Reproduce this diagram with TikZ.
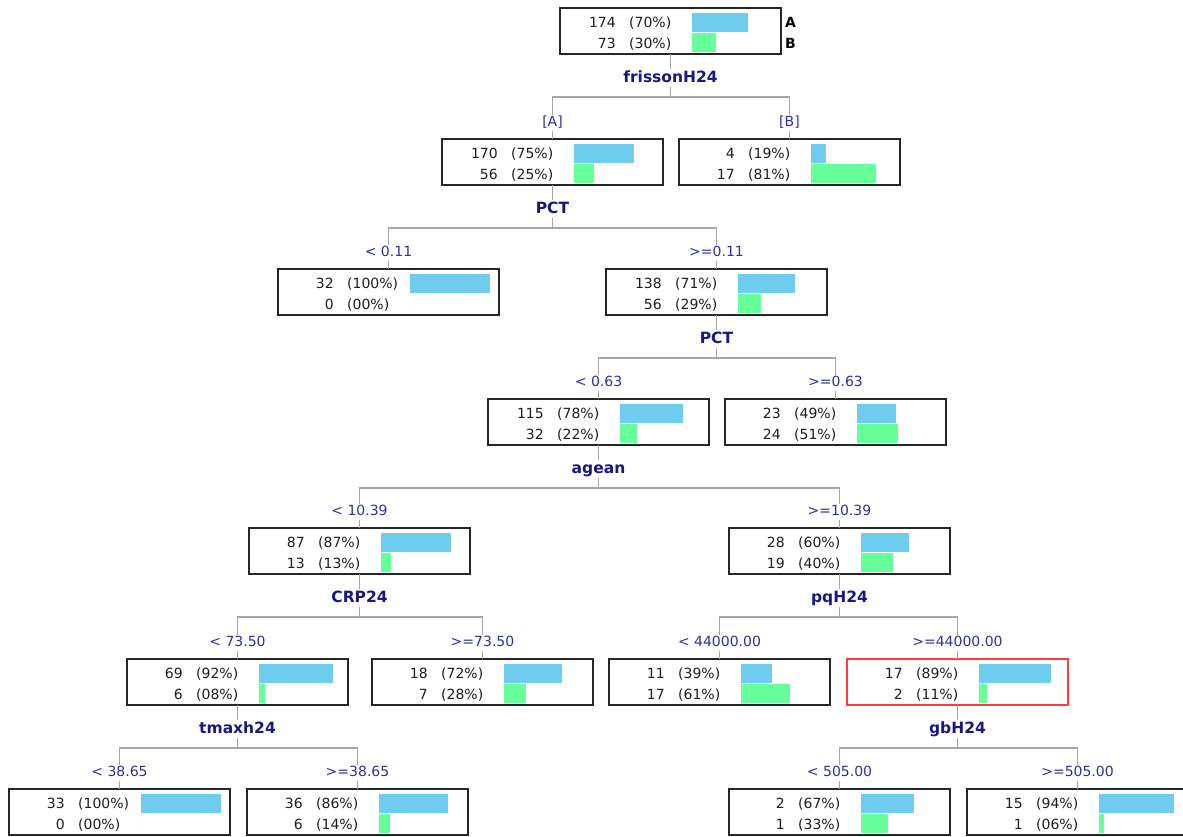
\documentclass[tikz,border=0pt]{standalone}
\usepackage{fontspec}
\setmainfont{DejaVu Sans}
\usetikzlibrary{calc}
\definecolor{barblue}{RGB}{110,204,238}
\definecolor{bargreen}{RGB}{102,255,153}
\definecolor{navy}{RGB}{24,24,128}
\definecolor{brblue}{RGB}{48,48,160}
\definecolor{linegray}{RGB}{165,165,165}
\definecolor{redbox}{RGB}{255,60,60}
\definecolor{boxtext}{RGB}{30,30,30}
\tikzset{
 tbox/.style={draw=black!85, line width=1.3pt, minimum width=221pt, minimum height=46pt, inner sep=0pt, outer sep=0pt, anchor=north west},
 redtbox/.style={tbox, draw=redbox},
 numtxt/.style={font=\fontsize{14}{14}\selectfont, text=boxtext, inner sep=0pt},
 splitlbl/.style={font=\fontsize{15.5}{16}\selectfont\bfseries, text=navy, inner sep=1.5pt, text height=11pt, text depth=3pt},
 brlbl/.style={font=\fontsize{14}{14}\selectfont, text=brblue, inner sep=1.5pt, text height=10.5pt, text depth=3pt},
 conn/.style={draw=linegray, line width=1.1pt},
 clsname/.style={font=\fontsize{14}{14}\selectfont\bfseries, text=black, inner sep=0pt, anchor=base west},
}
% name, left, top, n1, p1, n2, p2, style
\newcommand\tbox[8]{%
 \begin{scope}[shift={(#2,#3)}]
  \node[#8] (#1) at (0,0) {};
  \fill[barblue] (132,5) rectangle ({132+80*#4/(#4+#6)},24);
  \fill[bargreen] (132,25) rectangle ({132+80*#6/(#4+#6)},44);
  \node[numtxt, anchor=base east] (#1-na) at (56,19) {#4};
  \node[numtxt, anchor=base west] (#1-pa) at (69,19) {(#5\%)};
  \node[numtxt, anchor=base east] (#1-nb) at (56,40) {#6};
  \node[numtxt, anchor=base west] (#1-pb) at (69,40) {(#7\%)};
 \end{scope}}
% parent, split text, left child, left label, right child, right label
\newcommand\tsplit[6]{%
 \node[splitlbl] (#1-s) at ($(#1.south)+(0,24)$) {#2};
 \coordinate (#1-j) at ($(#1.south)+(0,43)$);
 \node[brlbl] (#3-l) at ($(#3.north)+(0,-16)$) {#4};
 \node[brlbl] (#5-l) at ($(#5.north)+(0,-16)$) {#6};
 \draw[conn] (#1.south) -- (#1-s.north);
 \draw[conn] (#1-s.south) -- (#1-j);
 \draw[conn] (#3-l.north) |- (#1-j) -| (#5-l.north);
 \draw[conn] (#3-l.south) -- (#3.north);
 \draw[conn] (#5-l.south) -- (#5.north);
}
\begin{document}
\begin{tikzpicture}[x=1pt,y=-1pt]
\useasboundingbox[fill=white] (0,0) rectangle (1183,836);
\tbox{root}{560}{8}{174}{70}{73}{30}{tbox}
\node[clsname] (clA) at (785,27) {A};
\node[clsname] (clB) at (785,48) {B};
\tbox{nA}{442}{139}{170}{75}{56}{25}{tbox}
\tbox{nB}{679}{139}{4}{19}{17}{81}{tbox}
\tbox{n3}{278}{269}{32}{100}{0}{00}{tbox}
\tbox{n4}{606}{269}{138}{71}{56}{29}{tbox}
\tbox{n5}{488}{399}{115}{78}{32}{22}{tbox}
\tbox{n6}{725}{399}{23}{49}{24}{51}{tbox}
\tbox{n7}{249}{528}{87}{87}{13}{13}{tbox}
\tbox{n8}{729}{528}{28}{60}{19}{40}{tbox}
\tbox{n9}{127}{659}{69}{92}{6}{08}{tbox}
\tbox{n10}{372}{659}{18}{72}{7}{28}{tbox}
\tbox{n11}{609}{659}{11}{39}{17}{61}{tbox}
\tbox{n12}{847}{659}{17}{89}{2}{11}{redtbox}
\tbox{n13}{9}{789}{33}{100}{0}{00}{tbox}
\tbox{n14}{247}{789}{36}{86}{6}{14}{tbox}
\tbox{n15}{729}{789}{2}{67}{1}{33}{tbox}
\tbox{n16}{967}{789}{15}{94}{1}{06}{tbox}
\tsplit{root}{frissonH24}{nA}{[A]}{nB}{[B]}
\tsplit{nA}{PCT}{n3}{< 0.11}{n4}{>=0.11}
\tsplit{n4}{PCT}{n5}{< 0.63}{n6}{>=0.63}
\tsplit{n5}{agean}{n7}{< 10.39}{n8}{>=10.39}
\tsplit{n7}{CRP24}{n9}{< 73.50}{n10}{>=73.50}
\tsplit{n8}{pqH24}{n11}{< 44000.00}{n12}{>=44000.00}
\tsplit{n9}{tmaxh24}{n13}{< 38.65}{n14}{>=38.65}
\tsplit{n12}{gbH24}{n15}{< 505.00}{n16}{>=505.00}
\end{tikzpicture}
\end{document}
